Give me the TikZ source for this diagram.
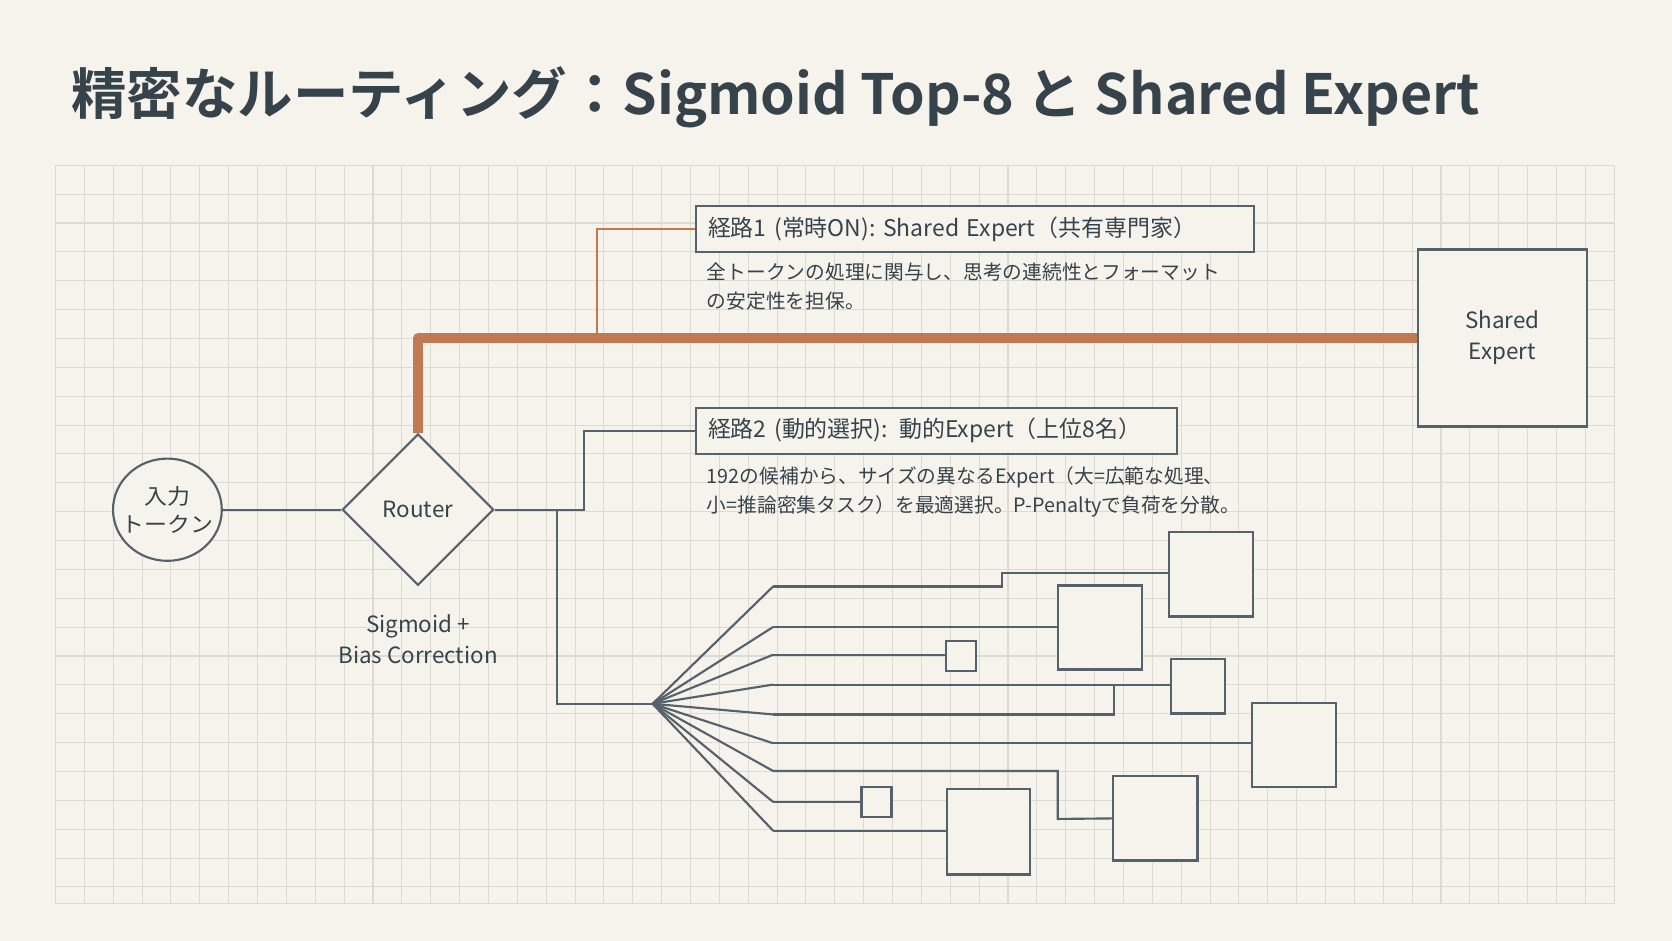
\documentclass[tikz,border=0pt]{standalone}
\usepackage{fontspec}
\setmainfont{Noto Sans CJK JP}
\newfontfamily\titlefont{Noto Sans CJK JP Bold}
\usetikzlibrary{positioning,shapes.geometric}
\definecolor{paper}{HTML}{F6F3EC}
\definecolor{gridc}{HTML}{DCDAD3}
\definecolor{slate}{HTML}{56626B}
\definecolor{ink}{HTML}{37434B}
\definecolor{rust}{HTML}{C07A52}
\tikzset{every picture/.style={line width=2pt},
  expert/.style={draw=slate,line width=2.2pt,fill=paper,inner sep=0pt},
  label box/.style={draw=slate,line width=2pt,fill=paper,anchor=west,inner xsep=11pt,minimum height=43pt,align=left,font=\fontsize{21.5}{24}\selectfont,text=ink},
  desc/.style={anchor=north west,align=left,inner sep=0pt,font=\fontsize{18.5}{27}\selectfont,text=ink},
  wire/.style={draw=slate,line width=2pt},
}

\begin{document}
\begin{tikzpicture}[x=1pt,y=1pt,yscale=-1,xscale=1]
\fill[paper] (0,0) rectangle (1568,882);
\useasboundingbox (0,0) rectangle (1568,882);

%Grid
\begin{scope}
\clip (52,155) rectangle (1514,847);
\foreach \i in {0,...,54} \draw[gridc,line width=1pt] (52+27.07*\i,155) -- (52+27.07*\i,847);
\foreach \j in {0,...,26} \draw[gridc,line width=1pt] (52,155+27.07*\j) -- (1514,155+27.07*\j);
\end{scope}
\draw[gridc,line width=1pt] (52,155) rectangle (1514,847);

% Title
\node[anchor=base west,inner sep=0pt,text=ink,font=\titlefont\fontsize{52}{58}\selectfont] (title) at (66,107) {精密なルーティング：Sigmoid Top-8 と Shared Expert};

% Input and router
\node[circle,draw=slate,line width=2pt,fill=paper,minimum size=102pt,inner sep=0pt,yscale=0.94,align=center,text=ink,font=\fontsize{21.5}{28}\selectfont] (token) at (157,478) {入力\\トークン};
\node[diamond,draw=slate,line width=2pt,fill=paper,minimum width=142pt,minimum height=142pt,inner sep=0pt,text=ink,font=\fontsize{21}{24}\selectfont] (router) at (392,478) {Router};
\node[below=22pt of router,align=center,text=ink,font=\fontsize{21}{29}\selectfont] (rlabel) {Sigmoid +\\Bias Correction};

% Shared expert
\node[expert,minimum width=158pt,minimum height=166pt,align=center,text=ink,font=\fontsize{21}{29}\selectfont] (shared) at (1409,317) {Shared\\Expert};

% Path labels
\node[label box,text width=501pt] (path1) at (652,215) {経路1 (常時ON): Shared Expert（共有専門家）};
\node[desc] (desc1) at (662,246) {全トークンの処理に関与し、思考の連続性とフォーマット\\の安定性を担保。};
\node[label box,text width=429pt] (path2) at (652,404) {経路2 (動的選択): 動的Expert（上位8名）};
\node[desc] (desc2) at (662,437) {192の候補から、サイズの異なるExpert（大=広範な処理、\\小=推論密集タスク）を最適選択。P-Penaltyで負荷を分散。};

% Routes
\draw[rust,line width=9pt,line join=round] (router.north) |- (shared.west);
\coordinate (tap) at (560,318);
\draw[rust,line width=1.8pt] (tap) |- (path1.west);
\draw[wire] (token) -- (router);
\coordinate (split) at (548,478);
\draw[wire] (router.east) -- (split) |- (path2.west);
\coordinate (drop) at (522,478);
\coordinate (fan) at (612,660);
\draw[wire] (drop) |- (fan);

% Routed experts
\node[expert,minimum width=79pt,minimum height=79pt] (eA) at (1135.5,538.5) {};
\node[expert,minimum width=79pt,minimum height=79pt] (eB) at (1031.5,588.5) {};
\node[expert,minimum width=28pt,minimum height=28pt] (eC) at (901,615) {};
\node[expert,minimum width=51pt,minimum height=51pt] (eD) at (1123.5,643.5) {};
\node[expert,minimum width=79pt,minimum height=79pt] (eE) at (1213.5,698.5) {};
\node[expert,minimum width=79pt,minimum height=79pt] (eF) at (1083.5,767.5) {};
\node[expert,minimum width=28pt,minimum height=28pt] (eG) at (822,752) {};
\node[expert,minimum width=78pt,minimum height=80pt] (eH) at (927,780) {};

% Fan out
\foreach \k/\y in {1/550,2/588,3/614,4/642,5/670,6/697,7/723,8/752,9/779}
  \coordinate (f\k) at (725,\y);
\foreach \k in {1,...,9} \draw[wire,line join=round] (fan) -- (f\k);
\draw[wire] (f1) -- (940,550) -- (940,537) -- (940,537 -| eA.west);
\draw[wire] (f2) -- (f2 -| eB.west);
\draw[wire] (f3) -- (f3 -| eC.west);
\draw[wire] (f4) -- (f4 -| eD.west);
\draw[wire] (f5) -- (1045,670) -- (1045,642);
\draw[wire] (f6) -- (f6 -| eE.west);
\draw[wire] (f7) -- (992,723) -- (992,768) -- (eF.west);
\draw[wire] (f8) -- (eG.west);
\draw[wire] (f9) -- (f9 -| eH.west);
\end{tikzpicture}
\end{document}
